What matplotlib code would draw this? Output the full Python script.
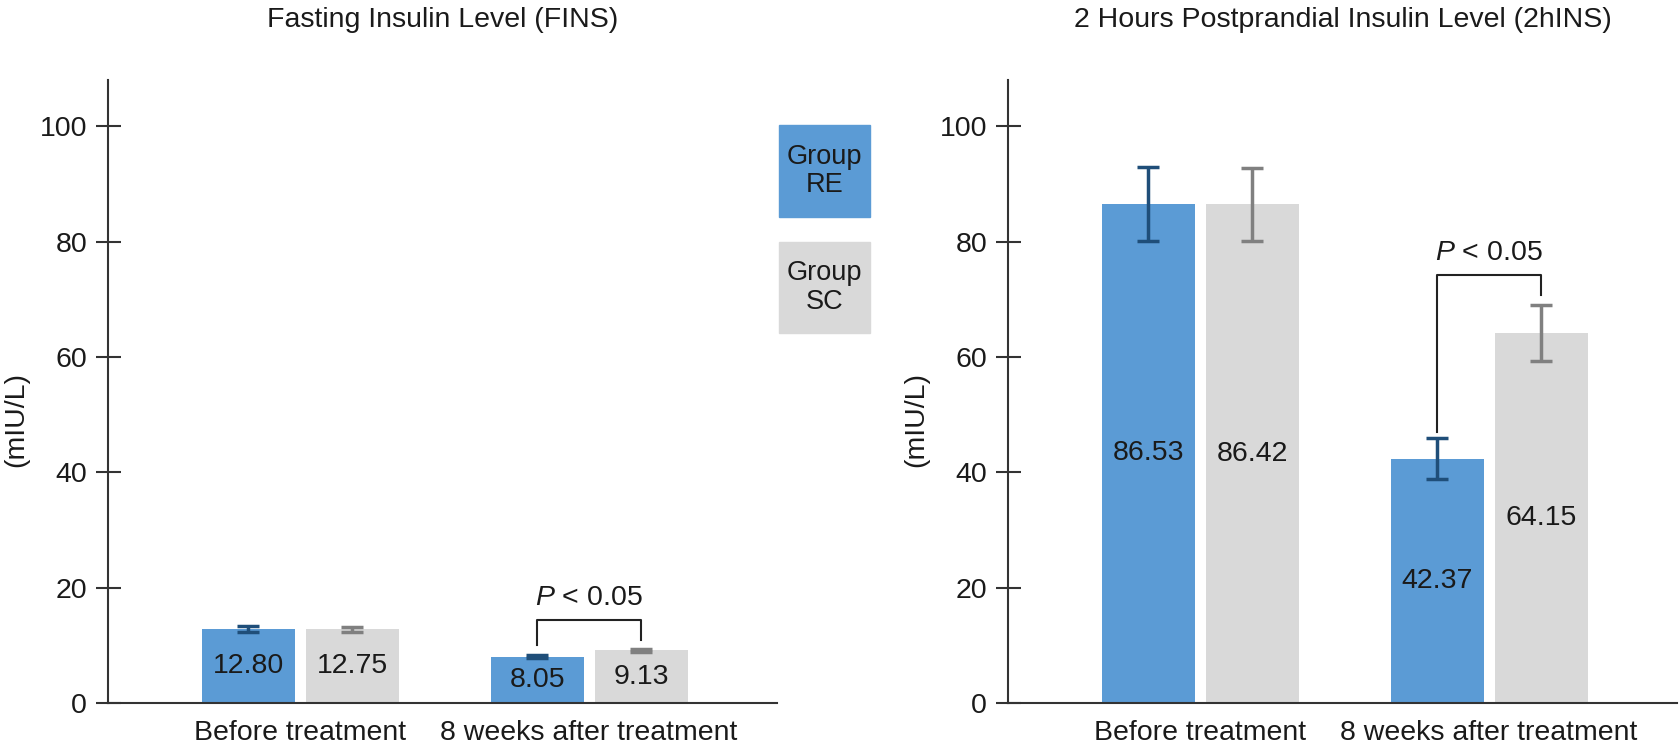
import matplotlib
matplotlib.use("Agg")
import matplotlib.pyplot as plt
from matplotlib.patches import Rectangle
import numpy as np

plt.rcParams['font.family'] = ['Liberation Sans', 'DejaVu Sans']
plt.rcParams['mathtext.fontset'] = 'custom'
plt.rcParams['mathtext.rm'] = 'Liberation Sans'
plt.rcParams['mathtext.it'] = 'Liberation Sans:italic'

# data
groups = ['Before treatment', '8 weeks after treatment']
fins_re = [12.80, 8.05]
fins_sc = [12.75, 9.13]
fins_re_err = [0.5, 0.2]
fins_sc_err = [0.5, 0.3]
ins2h_re = [86.53, 42.37]
ins2h_sc = [86.42, 64.15]
ins2h_re_err = [6.4, 3.5]
ins2h_sc_err = [6.4, 4.8]

# significance bracket: (left leg end, right leg end, top) for the second group
fins_bracket = [10.0, 10.9, 14.4]
ins2h_bracket = [47.0, 70.7, 74.2]

RE_COLOR = '#5b9bd5'
SC_COLOR = '#d9d9d9'
RE_ERR = '#1f4e79'
SC_ERR = '#808080'
TXT = '#1a1a1a'
AX = '#333333'
FS = 20.5

W, H = 1680, 745
fig = plt.figure(figsize=(W / 100, H / 100), dpi=100)

ax_w = 669 / W
ax_b = (H - 703) / H
ax_h = 623 / H
ax1 = fig.add_axes([108 / W, ax_b, ax_w, ax_h])
ax2 = fig.add_axes([1008 / W, ax_b, ax_w, ax_h])

x = np.arange(len(groups))
bw = 0.322
off = 0.18


def draw(ax, re, sc, re_err, sc_err, bracket, title):
    ax.bar(x - off, re, bw, color=RE_COLOR, zorder=1)
    ax.bar(x + off, sc, bw, color=SC_COLOR, zorder=1)
    ax.errorbar(x - off, re, yerr=re_err, fmt='none', ecolor=RE_ERR,
                elinewidth=2.5, capsize=8, capthick=2.5, zorder=3)
    ax.errorbar(x + off, sc, yerr=sc_err, fmt='none', ecolor=SC_ERR,
                elinewidth=2.5, capsize=8, capthick=2.5, zorder=3)
    for xi, v in zip(x - off, re):
        ax.text(xi, v / 2, '%.2f' % v, ha='center', va='center',
                fontsize=FS, color=TXT, zorder=4)
    for xi, v in zip(x + off, sc):
        ax.text(xi, v / 2, '%.2f' % v, ha='center', va='center',
                fontsize=FS, color=TXT, zorder=4)

    l, r, top = bracket
    ax.plot([1 - off, 1 - off, 1 + off, 1 + off], [l, top, top, r],
            color='#222222', lw=1.5, zorder=4)
    ax.text(1, top + 1.6, r'$\mathit{P}$ < 0.05', ha='center', va='bottom',
            fontsize=FS, color=TXT)

    ax.set_xlim(-0.665, 1.65)
    ax.set_ylim(0, 108)
    ax.set_yticks([0, 20, 40, 60, 80, 100])
    ax.set_xticks(x)
    ax.set_xticklabels(groups)
    ax.tick_params(axis='x', length=0, pad=12, labelsize=FS, labelcolor=TXT)
    ax.tick_params(axis='y', direction='inout', length=18, width=1.5,
                   color=AX, pad=6, labelsize=FS, labelcolor=TXT)
    for s in ['top', 'right']:
        ax.spines[s].set_visible(False)
    for s in ['left', 'bottom']:
        ax.spines[s].set_color(AX)
        ax.spines[s].set_linewidth(1.5)
    ax.set_ylabel('(mIU/L)', fontsize=FS, color=TXT)
    ax.yaxis.set_label_coords(-0.118, 0.455)
    ax.set_title(title, fontsize=FS, color=TXT, pad=38)


draw(ax1, fins_re, fins_sc, fins_re_err, fins_sc_err, fins_bracket,
     'Fasting Insulin Level (FINS)')
draw(ax2, ins2h_re, ins2h_sc, ins2h_re_err, ins2h_sc_err, ins2h_bracket,
     '2 Hours Postprandial Insulin Level (2hINS)')

# legend boxes
for (y0, y1), col, lab in [((125, 217), RE_COLOR, 'Group\nRE'),
                           ((242, 333), SC_COLOR, 'Group\nSC')]:
    fig.patches.append(Rectangle((779 / W, 1 - y1 / H), 91 / W, (y1 - y0) / H,
                                 transform=fig.transFigure, color=col))
    fig.text((779 + 45.5) / W, 1 - (y0 + y1) / 2 / H, lab, ha='center',
             va='center', fontsize=19.5, color=TXT, linespacing=1.15)

fig.savefig('out.png', dpi=100)
